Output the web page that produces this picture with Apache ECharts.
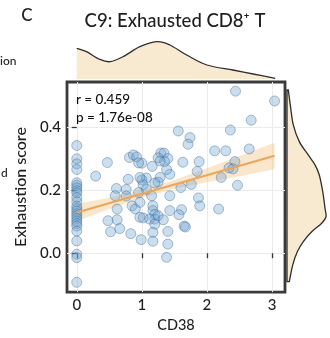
<!DOCTYPE html>
<html>
<head>
<meta charset="utf-8">
<script src="https://cdn.jsdelivr.net/npm/echarts@6/dist/echarts.min.js"></script>
<style>
  html, body { margin: 0; padding: 0; background: #fff; }
  #chart { width: 330px; height: 338px; }
</style>
</head>
<body>
<div id="chart"></div>
<script>
// CD38 expression vs exhaustion score, one point per cell group
const cd38 = [
  0, 0, 0, 0, 0, 0, 0, 0, 0, 0, 0, 0, 0, 0, 0, 0, 0, 0, 0, 0, 0, 0, 0, 0, 0,
  2.44, 3.04, 2.68, 2.36, 1.56, 1.74, 1.71, 2.12, 2.29, 2.65,
  1.29, 1.34, 1.25, 1.40, 1.35, 1.63, 1.88, 1.85, 1.16, 1.43,
  1.28, 1.38, 1.25, 2.43, 2.34, 2.40, 2.22, 2.47, 1.76, 1.60,
  1.00, 1.07, 1.00, 1.20, 1.02, 1.28, 0.29, 0.47, 0.81, 0.87,
  0.92, 0.95, 0.79, 0.61, 0.76, 0.97, 1.07, 0.59, 0.95, 0.85,
  0.90, 0.97, 0.62, 0.62, 0.48, 0.52, 0.66, 0.83, 0.99, 0.97,
  1.15, 1.43, 1.17, 1.17, 1.20, 1.20, 1.12, 1.25, 1.20, 1.02,
  1.33, 1.40, 1.17, 1.40, 1.38, 1.17, 1.43, 1.61, 1.57, 1.65,
  1.67, 1.87, 1.89, 2.18, 0.76
];
const exhaustion = [
  0.341, 0.299, 0.283, 0.265, 0.223, 0.215, 0.207, 0.198, 0.191, 0.176,
  0.163, 0.149, 0.141, 0.133, 0.125, 0.118, 0.110, 0.102, 0.094, 0.086,
  0.070, 0.039, -0.003, -0.014, -0.092,
  0.513, 0.482, 0.421, 0.390, 0.387, 0.366, 0.345, 0.324, 0.324, 0.330,
  0.317, 0.317, 0.302, 0.300, 0.290, 0.288, 0.290, 0.259, 0.275, 0.250,
  0.240, 0.265, 0.225, 0.290, 0.270, 0.267, 0.240, 0.215, 0.218, 0.208,
  0.285, 0.238, 0.232, 0.222, 0.217, 0.292, 0.244, 0.287, 0.303, 0.311,
  0.305, 0.286, 0.234, 0.205, 0.202, 0.240, 0.202, 0.182, 0.192, 0.150,
  0.140, 0.114, 0.140, 0.106, 0.103, 0.068, 0.078, 0.062, 0.043, 0.161,
  0.182, 0.182, 0.150, 0.135, 0.123, 0.108, 0.108, 0.119, 0.092, 0.112,
  0.106, 0.069, 0.066, 0.029, -0.013, 0.038, 0.135, 0.138, 0.122, 0.086,
  0.083, 0.175, 0.150, 0.140, 0.181
];

// linear fit and its confidence band
const fitIntercept = 0.129;
const fitSlope = 0.059;
const fitRange = [0, 3.04];
const bandX = [0, 0.5, 1.0, 1.5, 2.0, 2.5, 3.04];
const bandLow = [0.101, 0.140, 0.176, 0.204, 0.225, 0.244, 0.266];
const bandHigh = [0.157, 0.176, 0.200, 0.232, 0.269, 0.308, 0.350];

// marginal densities (arbitrary height units)
const topDensX = [0, 0.15, 0.35, 0.51, 0.71, 0.97, 1.23, 1.43, 1.69, 2.0, 2.4, 2.71, 3.05];
const topDensH = [30.7, 27.3, 19.7, 17.3, 22.3, 32.3, 37.3, 34, 24, 14, 9, 5, 0.7];
const rightDensY = [0.517, 0.460, 0.407, 0.354, 0.312, 0.281, 0.249, 0.197, 0.144, 0.118, 0.097, 0.070, 0.039, 0.007, -0.035, -0.087];
const rightDensW = [1.3, 3.7, 6.3, 12.3, 21.3, 28, 32.3, 35.7, 38, 39, 34.7, 24.7, 16.3, 10.3, 5.7, 2.3];

const xTicks = [0, 1, 2, 3];
const yTicks = [0, 0.2, 0.4];
const statR = 'r = 0.459';
const statP = 'p = 1.76e-08';

const FONT = 'Lato, "Noto Sans", sans-serif';
const DENS_FILL = '#f7ead0';
const DENS_LINE = '#2e2e2e';

// catmull-rom through pixel points -> svg path
function smoothPath(pts) {
  let d = `M${pts[0][0]},${pts[0][1]}`;
  for (let i = 0; i < pts.length - 1; i++) {
    const p0 = pts[i - 1] || pts[i], p1 = pts[i], p2 = pts[i + 1], p3 = pts[i + 2] || p2;
    const c1 = [p1[0] + (p2[0] - p0[0]) / 6, p1[1] + (p2[1] - p0[1]) / 6];
    const c2 = [p2[0] - (p3[0] - p1[0]) / 6, p2[1] - (p3[1] - p1[1]) / 6];
    d += ` C${c1[0]},${c1[1]} ${c2[0]},${c2[1]} ${p2[0]},${p2[1]}`;
  }
  return d;
}

const chart = echarts.init(document.getElementById('chart'));

chart.setOption({
  animation: false,
  grid: [
    { left: 67, top: 82, width: 218, height: 211, show: true, backgroundColor: '#fff', borderColor: '#3a3a3a', borderWidth: 2.8 },
    { left: 67, top: 36, width: 218, height: 43 },
    { left: 287, top: 82, width: 43, height: 211 }
  ],
  xAxis: [
    {
      gridIndex: 0, type: 'value', min: -0.15, max: 3.2,
      name: 'CD38', nameLocation: 'middle', nameGap: 22,
      nameTextStyle: { fontSize: 14.5, fontWeight: 500, color: '#1e1e1e', fontFamily: FONT },
      axisLine: { show: false },
      axisTick: { show: true, customValues: xTicks, length: 5, lineStyle: { color: '#333', width: 1.3 } },
      axisLabel: { customValues: xTicks, formatter: (v) => String(v), fontSize: 15, fontWeight: 500, color: '#1e1e1e', margin: 6, fontFamily: FONT },
      splitLine: { show: true, lineStyle: { color: '#ebebeb', width: 1 } }
    },
    { gridIndex: 1, type: 'value', min: -0.15, max: 3.2, show: false },
    { gridIndex: 2, type: 'value', min: 0, max: 43, show: false }
  ],
  yAxis: [
    {
      gridIndex: 0, type: 'value', min: -0.123, max: 0.542,
      name: 'Exhaustion score', nameLocation: 'middle', nameGap: 32,
      nameTextStyle: { fontSize: 16, fontWeight: 500, color: '#1e1e1e', fontFamily: FONT },
      axisLine: { show: false },
      axisTick: { show: true, customValues: yTicks, length: 5, lineStyle: { color: '#333', width: 1.3 } },
      axisLabel: { customValues: yTicks, formatter: (v) => v.toFixed(1), fontSize: 15, fontWeight: 500, color: '#1e1e1e', margin: 6, fontFamily: FONT },
      splitLine: { show: true, lineStyle: { color: '#ebebeb', width: 1 } }
    },
    { gridIndex: 1, type: 'value', min: 0, max: 43, show: false },
    { gridIndex: 2, type: 'value', min: -0.123, max: 0.542, show: false }
  ],
  series: [
    {
      // top marginal density of CD38
      type: 'custom', xAxisIndex: 1, yAxisIndex: 1, silent: true,
      data: topDensX.map((x, i) => [x, topDensH[i]]),
      renderItem: (params, api) => {
        if (params.dataIndex !== 0) return null;
        const pts = topDensX.map((x, i) => api.coord([x, topDensH[i]]));
        const b0 = api.coord([topDensX[0], 0]);
        const b1 = api.coord([topDensX[topDensX.length - 1], 0]);
        const curve = smoothPath(pts);
        return {
          type: 'group',
          children: [
            { type: 'path', shape: { pathData: `${curve} L${b1[0]},${b1[1]} L${b0[0]},${b0[1]} Z` }, style: { fill: DENS_FILL } },
            { type: 'path', shape: { pathData: curve }, style: { fill: 'none', stroke: DENS_LINE, lineWidth: 1.3 } }
          ]
        };
      }
    },
    {
      // right marginal density of exhaustion score
      type: 'custom', xAxisIndex: 2, yAxisIndex: 2, silent: true,
      data: rightDensY.map((y, i) => [rightDensW[i], y]),
      renderItem: (params, api) => {
        if (params.dataIndex !== 0) return null;
        const pts = rightDensY.map((y, i) => api.coord([rightDensW[i], y]));
        const b0 = api.coord([0, rightDensY[0]]);
        const b1 = api.coord([0, rightDensY[rightDensY.length - 1]]);
        const curve = smoothPath(pts);
        const closed = `M${b0[0]},${b0[1]} L${pts[0][0]},${pts[0][1]}` + curve.slice(curve.indexOf(' C')) + ` L${b1[0]},${b1[1]} Z`;
        return {
          type: 'path', shape: { pathData: closed },
          style: { fill: DENS_FILL, stroke: DENS_LINE, lineWidth: 1.3 }
        };
      }
    },
    {
      // confidence band
      type: 'custom', xAxisIndex: 0, yAxisIndex: 0, silent: true, z: 2,
      data: bandX.map((x, i) => [x, bandLow[i]]),
      renderItem: (params, api) => {
        if (params.dataIndex !== 0) return null;
        const upper = bandX.map((x, i) => api.coord([x, bandHigh[i]]));
        const lower = bandX.map((x, i) => api.coord([x, bandLow[i]])).reverse();
        return {
          type: 'polygon', shape: { points: upper.concat(lower) },
          style: { fill: 'rgba(244,196,130,0.42)' }
        };
      }
    },
    {
      type: 'scatter', xAxisIndex: 0, yAxisIndex: 0, z: 3,
      symbolSize: 10,
      data: cd38.map((x, i) => [x, exhaustion[i]]),
      itemStyle: { color: 'rgba(111,163,208,0.45)', borderColor: 'rgba(60,100,145,0.65)', borderWidth: 0.8 }
    },
    {
      type: 'line', xAxisIndex: 0, yAxisIndex: 0, z: 4,
      symbol: 'none', silent: true,
      data: fitRange.map((x) => [x, fitIntercept + fitSlope * x]),
      lineStyle: { color: '#eba65a', width: 2 }
    }
  ],
  graphic: [
    { type: 'text', x: 27, y: 16, style: { text: 'C', font: `500 17px ${FONT}`, fill: '#1e1e1e', align: 'center', verticalAlign: 'middle' } },
    { type: 'text', x: 175, y: 21, style: { text: 'C9: Exhausted CD8⁺ T', font: `500 18.5px ${FONT}`, fill: '#1e1e1e', align: 'center', verticalAlign: 'middle' } },
    { type: 'text', x: 0, y: 61, style: { text: 'ion', font: `500 12px ${FONT}`, fill: '#1e1e1e', align: 'left', verticalAlign: 'middle' } },
    { type: 'text', x: 1, y: 173, style: { text: 'd', font: `500 12px ${FONT}`, fill: '#1e1e1e', align: 'left', verticalAlign: 'middle' } },
    { type: 'text', x: 76, y: 100, z: 10, style: { text: statR, font: `500 13.5px ${FONT}`, fill: '#111', align: 'left', verticalAlign: 'middle' } },
    { type: 'text', x: 76, y: 118, z: 10, style: { text: statP, font: `500 13.5px ${FONT}`, fill: '#111', align: 'left', verticalAlign: 'middle' } }
  ]
});
</script>
</body>
</html>
